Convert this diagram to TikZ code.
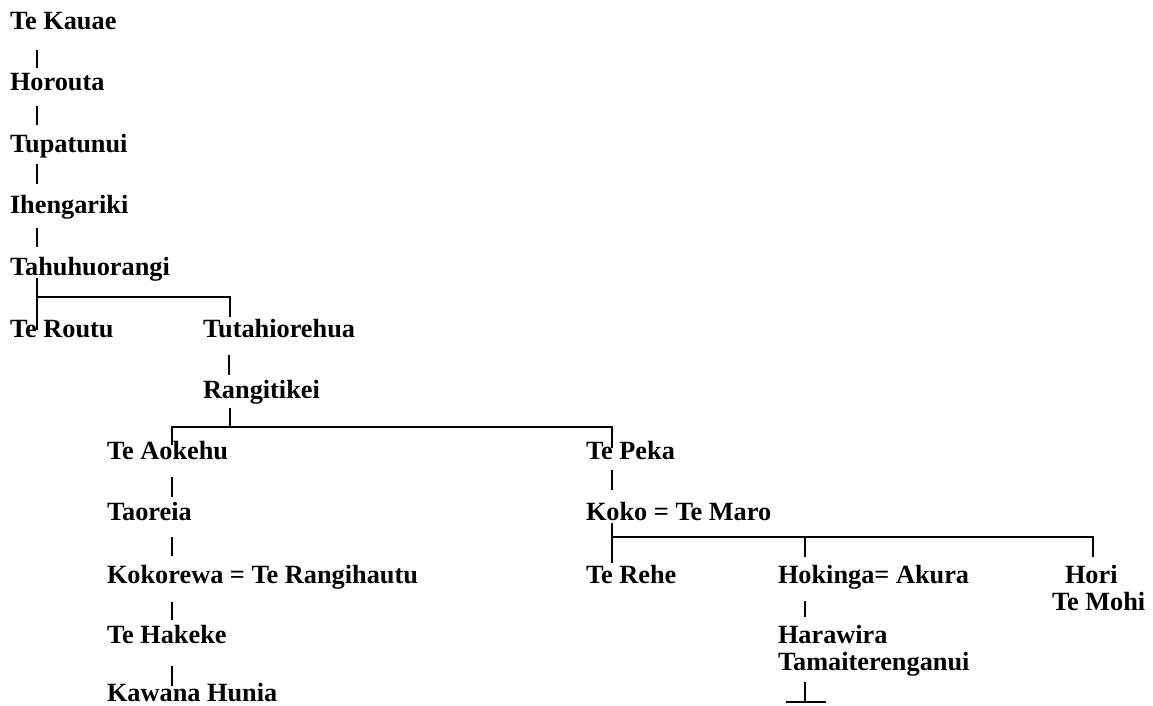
\documentclass[tikz,border=0pt]{standalone}
\usepackage{fontspec}
\setmainfont{Liberation Serif}
\usetikzlibrary{calc}
\tikzset{
  person/.style={anchor=base west, inner sep=0pt, outer sep=0pt, font=\fontsize{26.3}{27.5}\selectfont\bfseries},
  link/.style={line width=1.5pt, line cap=butt}
}
\begin{document}
\begin{tikzpicture}[x=1pt,y=-1pt]
\useasboundingbox (0,0) rectangle (1153,706);
% nodes
\node[person] (tk) at (10,30) {Te Kauae};
\node[person] (hr) at (10,91) {Horouta};
\node[person] (tp) at (10,152) {Tupatunui};
\node[person] (ih) at (10,213) {Ihengariki};
\node[person] (th) at (10,275) {Tahuhuorangi};
\node[person] (tr) at (10,337) {Te Routu};
\node[person] (tt) at (203,337) {Tutahiorehua};
\node[person] (rg) at (203,398) {Rangitikei};
\node[person] (ta) at (107,459) {Te Aokehu};
\node[person] (to) at (107,520) {Taoreia};
\node[person] (kw) at (107,583) {Kokorewa = Te Rangihautu};
\node[person] (hak) at (107,643) {Te Hakeke};
\node[person] (kh) at (107,701) {Kawana Hunia};
\node[person] (pk) at (586,459) {Te Peka};
\node[person] (kk) at (586,520) {Koko = Te Maro};
\node[person] (rh) at (586,583) {Te Rehe};
\node[person] (hk) at (778,583) {Hokinga= Akura};
% multi-line nodes: base anchor is the baseline of the last line
\node[person, align=left] (hm) at (1052,610.5) {\hspace*{13pt}Hori\\Te Mohi};
\node[person, align=left] (hw) at (778,670.5) {Harawira\\Tamaiterenganui};
% single descents
\draw[link] ($(tk.base west)+(27,20)$) -- ($(hr.base west)+(27,-23)$);
\draw[link] ($(hr.base west)+(27,15)$) -- ($(tp.base west)+(27,-27)$);
\draw[link] ($(tp.base west)+(27,12)$) -- ($(ih.base west)+(27,-29)$);
\draw[link] ($(ih.base west)+(27,15)$) -- ($(th.base west)+(27,-28)$);
\draw[link] ($(tt.base west)+(26,18)$) -- ($(rg.base west)+(26,-23)$);
\draw[link] ($(ta.base west)+(65,18)$) -- ($(to.base west)+(65,-23)$);
\draw[link] ($(to.base west)+(65,17)$) -- ($(kw.base west)+(65,-27)$);
\draw[link] ($(kw.base west)+(65,19)$) -- ($(hak.base west)+(65,-23)$);
\draw[link] ($(hak.base west)+(65,23)$) -- ($(kh.base west)+(65,-15)$);
\draw[link] ($(pk.base west)+(26,11)$) -- ($(kk.base west)+(26,-30)$);
\draw[link] ($(hk.base west)+(27,18)$) -- ($(hw.base west)+(27,-53.5)$);
% Tahuhuorangi family
\coordinate (j1) at ($(th.base west)+(27,22)$);
\draw[link] ($(th.base west)+(27,3)$) -- ($(tr.base west)+(27,-7)$);
\draw[link] (j1) -- ($(tt.base west)+(27,-40)$) -- ($(tt.base west)+(27,-20)$);
% Rangitikei family
\coordinate (j2) at ($(rg.base west)+(27,29)$);
\draw[link] ($(rg.base west)+(27,10)$) -- (j2);
\draw[link] ($(ta.base west)+(65,-14)$) -- ($(ta.base west)+(65,-32)$) -- ($(pk.base west)+(26,-32)$) -- ($(pk.base west)+(26,-11)$);
% Koko family
\draw[link] ($(kk.base west)+(26,3)$) -- ($(rh.base west)+(26,-20)$);
\draw[link] ($(kk.base west)+(26,17)$) -- ($(hm.base west)+(41,-73.5)$) -- ($(hm.base west)+(41,-53.5)$);
\draw[link] ($(hk.base west)+(27,-46)$) -- ($(hk.base west)+(27,-26)$);
% Harawira descent
\coordinate (hwend) at ($(hw.base west)+(27,31.5)$);
\draw[link] ($(hw.base west)+(27,11.5)$) -- (hwend);
\draw[link] ($(hwend)+(-19,0)$) -- ($(hwend)+(21,0)$);
\end{tikzpicture}
\end{document}
